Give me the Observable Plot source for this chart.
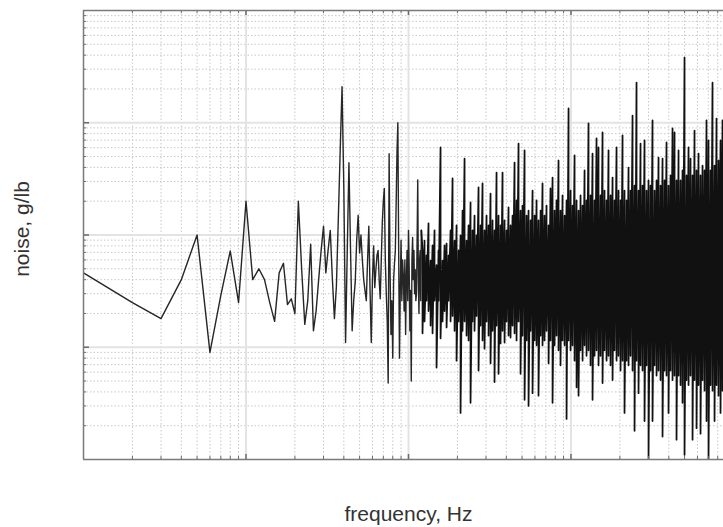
<!DOCTYPE html>
<html>
<head>
<meta charset="utf-8">
<script src="https://cdn.jsdelivr.net/npm/d3@7"></script>
<script src="https://cdn.jsdelivr.net/npm/@observablehq/plot@0.6"></script>
<style>
  html, body { margin: 0; padding: 0; background: #fff; }
  #chart svg { display: block; }
</style>
</head>
<body>
<div id="chart"></div>
<script>
// ---- data (frequency in multiples of the base bin, noise in g/lb) ----
const sparseFreq = [1,2,3,4,5,6,7,8,9,10,11,12,13,14,15,16,17,18,19,20,
  21,22,23,24,25,26,27,28,29,30,31,32,33,34,35,36,37,38,39,40,
  41,42,43,44,45,46,47,48,49,50,51,52,53,54,55,56,57,58,59,60,
  61,62,63,64,65,66,67,68,69,70,71,72,73,74,75,76,77,78,79,80,
  81,82,83,84,85,86,87,88,89,90,91,92,93,94,95,96,97,98,99,100,
  101,102,103,104,105,106,107,108,109,110,111,112,113,114,115,116,117,118,119,120];
const sparseNoise = [.0046,.0025,.0018,.004,.01,.0009,.0029,.0072,.0025,.02,
  .004,.005,.004,.0025,.0017,.0046,.0056,.0024,.0027,.002,
  .02,.005,.0016,.0026,.0083,.0014,.0021,.004,.0073,.012,
  .0046,.0073,.011,.0041,.0018,.0035,.014,.057,.21,.026,
  .0011,.0073,.044,.0073,.0014,.0026,.0038,.009,.015,.0069,
  .01,.006,.004,.0032,.0026,.006,.012,.0032,.0011,.004,
  .008,.0034,.0049,.0066,.0073,.004,.0027,.006,.013,.02,
  .026,.006,.003,.0017,.00048,.053,.0049,.0013,.0026,.0008,
  .004,.0056,.0073,.02,.056,.1,.0073,.0008,.0032,.009,
  .0026,.006,.0042,.0021,.006,.0013,.004,.0073,.0026,.011,
  .0049,.0014,.0032,.0005,.006,.0095,.004,.0073,.003,.0049,
  .0026,.003,.009,.031,.004,.002,.006,.0073,.0026,.011];

// dense part: per frequency column, the highest and lowest reading
const denseFreq = [122,125.5,129.1,132.8,136.7,140.6,144.6,148.8,153.1,157.5,
  162,166.7,171.5,176.4,181.5,186.7,192.1,197.6,203.3,209.1,
  215.1,221.3,227.6,234.2,240.9,247.8,254.9,262.3,269.8,277.6,
  285.5,293.7,302.2,310.9,319.8,329,338.4,348.2,358.2,368.5,
  379.1,390,401.2,412.7,424.6,436.8,449.4,462.3,475.6,489.3,
  503,518,533,548,564,580,597,614,631,650,
  668,687,707,728,748,770,792,815,838,862,
  887,913,939,966,994,1022,1052,1082,1113,1145,
  1178,1212,1246,1282,1319,1357,1396,1436,1477,1520,
  1564,1608,1655,1702,1751,1802,1853,1907,1961,2018,
  2076,2135,2197,2260,2325,2392,2461,2531,2604,2679,
  2756,2835,2916,3000,3087,3175,3267,3361,3457,3557,
  3659,3764,3872,3983,4098,4216,4337,4461,4590,4722,
  4857,4997,5140,5288,5440,5597,5757,5923,6093,6268,
  6448,6634,6824,7021,7222,7430,7644,7863,8089,8322,8561];
const denseHigh = [.0073,.0089,.0066,.0127,.0059,.0081,.011,.0054,.0073,.0602,
  .0059,.0081,.0084,.0066,.011,.0319,.0089,.0122,.0073,.0099,
  .0165,.048,.0089,.0122,.0195,
  .011,.0149,.0099,.0265,.0122,.0288,.011,.0149,.0122,.0234,
  .0135,.011,.036,.0149,.0122,.036,.0135,.011,.0176,.0122,
  .0149,.0442,.0203,.0653,.0165,.0183,.0566,.0149,.0165,.0135,
  .0249,.0149,.0203,.0135,.0165,.0288,.0149,.0183,.0122,.026,
  .0325,.0165,.0203,.0461,.0165,.0225,.0149,.0203,.134,
  .0249,.0183,.0511,.0203,.0165,.0225,.0183,.0376,.0203,.0985,
  .0225,.0532,.0203,.0724,.0602,.0225,.0819,.0249,.0203,.0566,
  .0225,.0325,.0203,.0602,.0249,.0203,.077,.0249,.0203,.0399,
  .0249,.116,.0276,.228,.0249,.0653,.0276,.0695,.0249,.0306,
  .0276,.105,.0249,.0306,.049,.0276,.048,.0306,.0667,.0276,
  .0339,.0889,.0819,.0306,.0566,.0306,.0376,.381,.0339,.0602,
  .048,.0339,.085,.0376,.0532,.0339,.0416,.0376,.105,.0695,
  .0376,.228,.0416,.109,.0461,.0695,.105];
const denseLow = [.00133,.0017,.0026,.0021,.00156,.00133,.0026,.00066,.0026,.0012,
  .0017,.0021,.0015,.0026,.0017,.0019,.0014,.00076,.0017,.00026,
  .0014,.0017,.00127,.00115,.00032,
  .0017,.0014,.0019,.00062,.00156,.00115,.00097,.0017,.00127,.00072,
  .0014,.00049,.00156,.00058,.00108,.0014,.0011,.0017,.00127,.00122,
  .00156,.00133,.00115,.0017,.00058,.00127,.00034,.00115,.0003,.0014,
  .00039,.00115,.00104,.00037,.00127,.00104,.00115,.0014,.00072,.00115,
  .00032,.00104,.00127,.00094,.00069,.00115,.00104,.00023,.00115,
  .00094,.00104,.00076,.00044,.00037,.00094,.00076,.00104,.00084,.00094,
  .00069,.00034,.00084,.00094,.00069,.00084,.00048,.00094,.00076,.00084,
  .00069,.00051,.00094,.00076,.00084,.00062,.00076,.00026,.00076,.00069,
  .00084,.00062,.00018,.00076,.00039,.00069,.00062,.00022,.00069,.000098,
  .00062,.00022,.00069,.00056,.00062,.00051,.00016,.00062,.00056,.00026,
  .00062,.00051,.00056,.00015,.00056,.00046,.00032,.00011,.00051,.00046,
  .00056,.00015,.00051,.00019,.00046,.00017,.00051,.00041,.00022,.0001,
  .00046,.00041,.00022,.00046,.00037,.00026,.00041];

// axis / grid positions
const xMajor = [10, 100, 1000];
const xMinor = [2,3,4,5,6,7,8,9,20,30,40,50,60,70,80,90,200,300,400,500,600,700,800,900,2000,3000,4000,5000,6000,7000,8000];
const yMajor = [0.001, 0.01, 0.1];
const yMinor = [2e-4,3e-4,4e-4,5e-4,6e-4,7e-4,8e-4,9e-4,.002,.003,.004,.005,.006,.007,.008,.009,.02,.03,.04,.05,.06,.07,.08,.09,.2,.3,.4,.5,.6,.7,.8,.9];
const xDomain = [1, 8680];
const yDomain = [1e-4, 1];
const xLabel = "frequency, Hz";
const yLabel = "noise, g/lb";

// ---- build series ----
const series = sparseFreq.map((f, i) => ({f, v: sparseNoise[i]}));
denseFreq.forEach((f, i) => {
  series.push({f, v: denseHigh[i]});
  series.push({f, v: denseLow[i]});
});
const lastSparse = sparseFreq[sparseFreq.length - 1];

const W = 723, H = 527;
const mT = 10, mR = 0, mB = 68, mL = 83;
const pH = H - mT - mB, pW = W - mL - mR;
const frameC = "#7a7a7a";
const tickC = "#6a6a6a";

const chart = Plot.plot({
  width: W, height: H,
  marginTop: mT, marginRight: mR, marginBottom: mB, marginLeft: mL,
  style: {background: "#fff", fontFamily: "'Liberation Sans', Arial, sans-serif"},
  x: {type: "log", domain: xDomain, axis: null},
  y: {type: "log", domain: yDomain, axis: null},
  marks: [
    Plot.ruleX(xMinor, {x: d => d, stroke: "#c8c8c8", strokeWidth: 1, strokeDasharray: "1.5,2"}),
    Plot.ruleY(yMinor, {y: d => d, stroke: "#c8c8c8", strokeWidth: 1, strokeDasharray: "1.5,2"}),
    Plot.ruleX(xMajor, {x: d => d, stroke: "#e3e3e3", strokeWidth: 2}),
    Plot.ruleY(yMajor, {y: d => d, stroke: "#e3e3e3", strokeWidth: 2}),
    Plot.line(series, {filter: d => d.f <= lastSparse, x: "f", y: "v", stroke: "#262626", strokeWidth: 1.4, clip: true}),
    Plot.line(series, {filter: d => d.f >= lastSparse, x: "f", y: "v", stroke: "#111", strokeWidth: 1.75, clip: true}),
    // ticks (inward)
    Plot.tickX(xMinor, {x: d => d, stroke: tickC, insetTop: pH - 3}),
    Plot.tickX(xMinor, {x: d => d, stroke: tickC, insetBottom: pH - 3}),
    Plot.tickX(xMajor, {x: d => d, stroke: tickC, strokeWidth: 1.5, insetTop: pH - 5}),
    Plot.tickX(xMajor, {x: d => d, stroke: tickC, strokeWidth: 1.5, insetBottom: pH - 5}),
    Plot.tickY(yMinor, {y: d => d, stroke: tickC, insetRight: pW - 3}),
    Plot.tickY(yMajor, {y: d => d, stroke: tickC, strokeWidth: 1.5, insetRight: pW - 6}),
    // frame (left, top, bottom)
    Plot.ruleX([xDomain[0]], {x: d => d, stroke: frameC, strokeWidth: 1.5}),
    Plot.ruleY(yDomain, {y: d => d, stroke: frameC, strokeWidth: 1.5}),
    // axis titles
    Plot.text([xLabel], {frameAnchor: "bottom", dx: 5, dy: 55, lineAnchor: "middle", fontSize: 21, fill: "#333"}),
    Plot.text([yLabel], {frameAnchor: "left", dx: -61, dy: -6, rotate: -90, textAnchor: "middle", lineAnchor: "middle", fontSize: 21, fill: "#333"})
  ]
});
document.getElementById("chart").appendChild(chart);
</script>
</body>
</html>
